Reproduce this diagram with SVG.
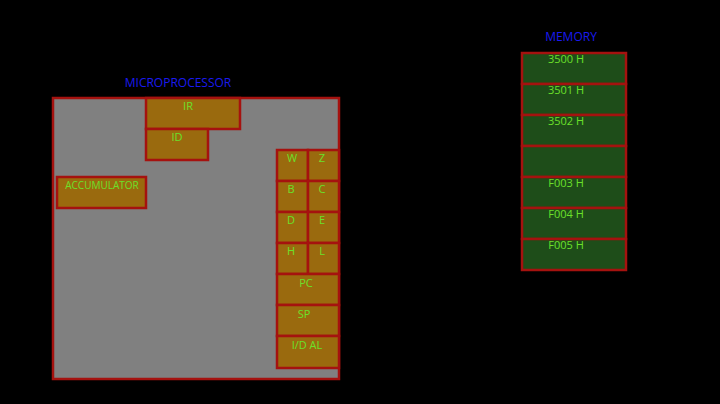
<svg xmlns="http://www.w3.org/2000/svg" width="720" height="404" viewBox="0 0 720 404">
<style>
.o{fill:#9a6a0e;stroke:#a5120f;stroke-width:2.5}
.m{fill:#1e4d19;stroke:#a5120f;stroke-width:2.5}
.t{font-family:"Open Sans",sans-serif;font-size:11px;fill:#6be02a;text-anchor:middle}
.h{font-family:"Open Sans",sans-serif;font-size:12px;fill:#1a1af0;text-anchor:middle}
</style>
<rect width="720" height="404" fill="#000"/>
<text class="h" x="178" y="87">MICROPROCESSOR</text>
<g id="cpu"><rect x="53" y="98" width="286" height="281" fill="#808080" stroke="#a5120f" stroke-width="2.5"/></g>
<g id="ir"><rect class="o" x="146" y="98" width="94" height="31"/><text class="t" x="188" y="110">IR</text></g>
<g id="id"><rect class="o" x="146" y="129" width="62" height="31"/><text class="t" x="177" y="141">ID</text></g>
<g id="acc"><rect class="o" x="57" y="177" width="89" height="31"/><text class="t" x="102" y="189" style="font-size:10px">ACCUMULATOR</text></g>
<g id="w"><rect class="o" x="277" y="150" width="31" height="31"/><text class="t" x="292" y="162">W</text></g>
<g id="z"><rect class="o" x="308" y="150" width="31" height="31"/><text class="t" x="322" y="162">Z</text></g>
<g id="b"><rect class="o" x="277" y="181" width="31" height="31"/><text class="t" x="291" y="193">B</text></g>
<g id="c"><rect class="o" x="308" y="181" width="31" height="31"/><text class="t" x="322" y="193">C</text></g>
<g id="d"><rect class="o" x="277" y="212" width="31" height="31"/><text class="t" x="291" y="224">D</text></g>
<g id="e"><rect class="o" x="308" y="212" width="31" height="31"/><text class="t" x="322" y="224">E</text></g>
<g id="hr"><rect class="o" x="277" y="243" width="31" height="31"/><text class="t" x="291" y="255">H</text></g>
<g id="l"><rect class="o" x="308" y="243" width="31" height="31"/><text class="t" x="322" y="255">L</text></g>
<g id="pc"><rect class="o" x="277" y="274" width="62" height="31"/><text class="t" x="306" y="287">PC</text></g>
<g id="sp"><rect class="o" x="277" y="305" width="62" height="31"/><text class="t" x="304" y="318">SP</text></g>
<g id="idal"><rect class="o" x="277" y="336" width="62" height="32"/><text class="t" x="307" y="349">I/D AL</text></g>
<text class="h" x="571" y="41">MEMORY</text>
<g id="m0"><rect class="m" x="522" y="53" width="104" height="31"/><text class="t" x="566" y="63">3500 H</text></g>
<g id="m1"><rect class="m" x="522" y="84" width="104" height="31"/><text class="t" x="566" y="94">3501 H</text></g>
<g id="m2"><rect class="m" x="522" y="115" width="104" height="31"/><text class="t" x="566" y="125">3502 H</text></g>
<g id="m3"><rect class="m" x="522" y="146" width="104" height="31"/></g>
<g id="m4"><rect class="m" x="522" y="177" width="104" height="31"/><text class="t" x="566" y="187">F003 H</text></g>
<g id="m5"><rect class="m" x="522" y="208" width="104" height="31"/><text class="t" x="566" y="218">F004 H</text></g>
<g id="m6"><rect class="m" x="522" y="239" width="104" height="31"/><text class="t" x="566" y="249">F005 H</text></g>
<g id="connectors"/>
</svg>
